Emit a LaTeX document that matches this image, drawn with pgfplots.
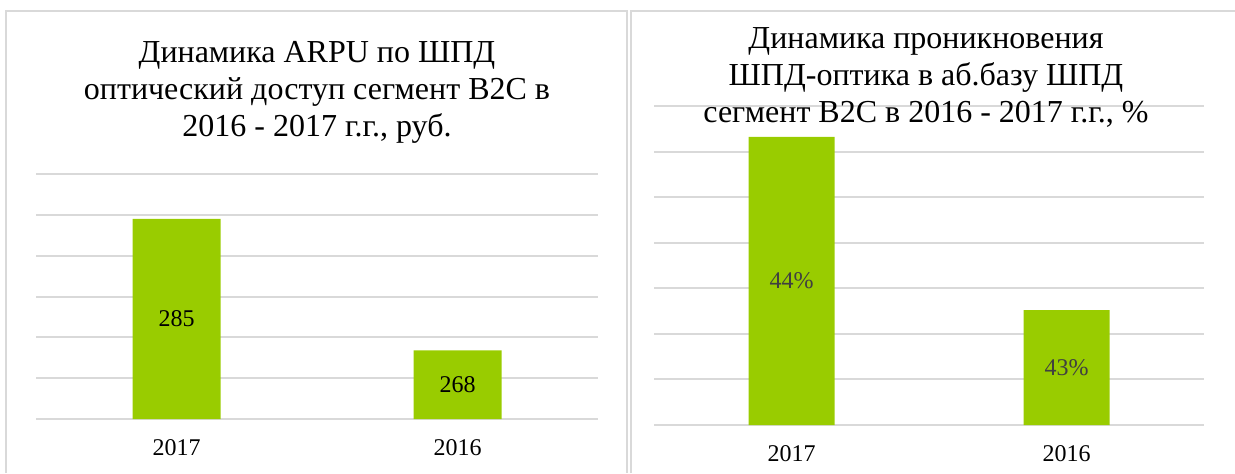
\documentclass[border=0pt]{standalone}
\usepackage{pgfplots}
\pgfplotsset{compat=1.18}
\usepackage{fontspec}
\setmainfont{Liberation Serif}
\definecolor{barG}{HTML}{99CC00}
\definecolor{gridG}{HTML}{D9D9D9}
\definecolor{lblG}{HTML}{404040}

\pgfplotsset{
  panel/.style={
    scale only axis,
    ybar, bar width=44pt,
    xmin=-0.5, xmax=1.5,
    enlargelimits=false,
    xtick={0,1}, xticklabels={2017,2016},
    yticklabels={},
    major tick length=0pt,
    axis line style={draw=none},
    ymajorgrids, grid style={draw=gridG, line width=1pt},
    tick label style={font=\fontsize{12}{14}\selectfont},
    xticklabel style={anchor=center, yshift=-14.5pt},
    /pgf/number format/assume math mode=true,
    point meta=explicit symbolic,
    visualization depends on={rawy \as \rawy},
    clip=false,
  },
}

\begin{document}
\begin{tikzpicture}
\path[use as bounding box] (0,0) rectangle (617.5pt,236.5pt);
% panel frames
\draw[gridG, line width=1pt] (3pt,0) -- (3pt,231pt) -- (313.25pt,231pt) -- (313.25pt,0);
\draw[gridG, line width=1pt] (315.25pt,0) -- (315.25pt,231pt) -- (617.5pt,231pt);

% left panel: ARPU
\begin{axis}[panel,
  at={(18pt,27pt)}, anchor=south west,
  width=281pt, height=122.5pt,
  ymin=260, ymax=290, ytick={260,265,...,290},
  nodes near coords,
  nodes near coords style={anchor=center, black, font=\fontsize{12}{14}\selectfont,
    shift={(axis direction cs:0,{(260-\rawy)/2})}},
]
\addplot[fill=barG, draw=none] coordinates {(0,284.5) [285] (1,268.4) [268]};
\end{axis}
\node[align=center, font=\fontsize{16}{18.5}\selectfont] at (158.5pt,190.25pt)
  {Динамика ARPU по ШПД\\оптический доступ сегмент B2C в\\2016 - 2017 г.г., руб.};

% right panel: penetration
\begin{axis}[panel,
  at={(327pt,24pt)}, anchor=south west,
  width=275pt, height=159.5pt, bar width=43pt,
  ymin=42.5, ymax=44.25, ytick={42.5,42.75,...,44.3},
  nodes near coords,
  nodes near coords style={anchor=center, lblG, font=\fontsize{12}{14}\selectfont,
    shift={(axis direction cs:0,{(42.5-\rawy)/2})}},
]
\addplot[fill=barG, draw=none] coordinates {(0,44.08) [44\%] (1,43.13) [43\%]};
\end{axis}
\node[align=center, font=\fontsize{16}{18.5}\selectfont] at (463pt,198pt)
  {Динамика проникновения\\ШПД-оптика в аб.базу ШПД\\сегмент B2C в 2016 - 2017 г.г., \%};
\end{tikzpicture}
\end{document}
